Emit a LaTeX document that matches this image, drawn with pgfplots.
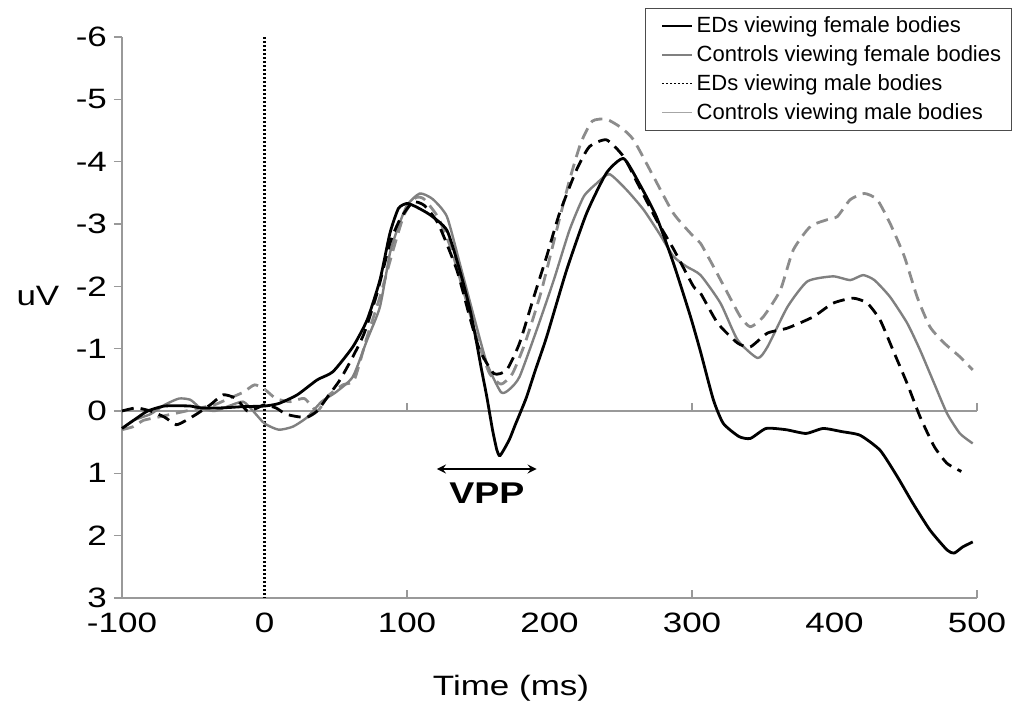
\documentclass[border=0pt]{standalone}
\usepackage{fontspec}
\setmainfont{Liberation Sans}
\newfontfamily\axfont{Liberation Sans}[FakeStretch=1.25]
\usepackage{pgfplots}
\pgfplotsset{compat=1.18}
\definecolor{axgray}{gray}{0.6}
\definecolor{cgray}{gray}{0.5}
\definecolor{dgray}{gray}{0.55}
\begin{document}
\begin{tikzpicture}
\path[use as bounding box] (-61pt,-54pt) rectangle (445.5pt,299pt);
\begin{axis}[
  at={(0,0)}, anchor=south west,
  scale only axis, width=427.5pt, height=280.5pt,
  xmin=-100, xmax=500, ymin=-6, ymax=3, y dir=reverse,
  clip=false,
  axis line style={draw=none},
  xtick={-100,0,100,200,300,400,500},
  xticklabels={-100,0,100,200,300,400,500},
  ytick={-6,-5,-4,-3,-2,-1,0,1,2,3},
  yticklabels={-6,-5,-4,-3,-2,-1,0,1,2,3},
  ytick pos=left,
  y tick style={axgray, line width=0.6pt},
  x tick style={draw=none},
  tick align=outside,
  major tick length=4pt,
  tick label style={font=\axfont\fontsize{14}{16}\selectfont},
  legend style={at={(0.6117,1.0517)}, anchor=north west, draw=black!70, line width=0.5pt,
    font=\fontsize{11}{12.5}\selectfont, row sep=1pt, inner xsep=3pt, inner ysep=2pt},
  legend cell align=left,
  legend image code/.code={\path (0pt,0pt); \draw[#1] (5pt,0pt) -- (20pt,0pt);},
  every axis plot/.append style={smooth, tension=0.35, line join=round},
]
% axis lines
\draw[axgray, line width=0.6pt] (axis cs:-100,-6) -- (axis cs:-100,3) -- (axis cs:500,3);
\draw[axgray, line width=0.6pt] (axis cs:-100,0) -- (axis cs:500,0);
\draw[axgray, line width=0.6pt] (axis cs:100,3) -- ([yshift=4pt]axis cs:100,3);
\draw[axgray, line width=0.6pt] (axis cs:300,3) -- ([yshift=4pt]axis cs:300,3);
\draw[axgray, line width=0.6pt] (axis cs:500,3) -- ([yshift=4pt]axis cs:500,3);
\draw[axgray, line width=0.6pt] (axis cs:100,0) -- ([yshift=4pt]axis cs:100,0);
\draw[axgray, line width=0.6pt] (axis cs:300,0) -- ([yshift=4pt]axis cs:300,0);
\draw[axgray, line width=0.6pt] (axis cs:500,0) -- ([yshift=4pt]axis cs:500,0);
\draw[black, line width=1.1pt, dash pattern=on 1pt off 1pt] (axis cs:0,-6) -- (axis cs:0,3);

% Controls viewing male bodies (gray dashed)
\addplot[forget plot, dgray, line width=1.4pt, dash pattern=on 6pt off 3.5pt] coordinates {
(-100,0.3) (-92,0.25) (-85,0.15) (-75,0.1) (-65,0.05) (-55,0.0) (-45,-0.05) (-35,-0.1)
(-25,-0.2) (-15,-0.3) (-7,-0.42) (0,-0.35) (8,-0.2) (18,-0.15) (28,-0.2) (37,0.0)
(45,-0.25) (55,-0.42) (63,-0.5) (72,-1.19) (81,-1.83) (91,-2.64) (98,-3.15) (106,-3.42)
(112,-3.4) (122,-3.1) (131,-2.6) (140,-1.9) (150,-1.1) (158,-0.6) (166,-0.43) (174,-0.6)
(183,-1.1) (194,-1.9) (205,-2.9) (214,-3.7) (222,-4.3) (230,-4.65) (240,-4.68) (250,-4.55)
(259,-4.35) (273,-3.76) (287,-3.17) (301,-2.8) (306,-2.69) (315,-2.32) (325,-1.89) (334,-1.51)
(341,-1.35) (350,-1.51) (362,-1.94) (371,-2.58) (383,-2.96) (395,-3.07) (402,-3.12) (411,-3.39)
(421,-3.49) (430,-3.39) (439,-3.01) (449,-2.48) (458,-1.83) (467,-1.35) (477,-1.09) (488,-0.87)
(497,-0.66)
};
% Controls viewing female bodies (gray solid)
\addplot[forget plot, cgray, line width=1.2pt] coordinates {
(-100,0.28) (-92,0.15) (-80,0.05) (-70,-0.1) (-60,-0.2) (-52,-0.18) (-45,-0.05) (-35,0.0)
(-25,-0.08) (-15,-0.15) (-8,0.0) (0,0.2) (10,0.3) (20,0.25) (30,0.1) (40,-0.15)
(50,-0.3) (62,-0.55) (72,-1.14) (81,-1.67) (88,-2.53) (93,-2.9) (100,-3.3) (109,-3.49)
(118,-3.4) (128,-3.12) (137,-2.37) (147,-1.51) (156,-0.77) (166,-0.3) (172,-0.35) (179,-0.55)
(191,-1.3) (203,-2.1) (214,-2.9) (224,-3.44) (233,-3.65) (242,-3.8) (254,-3.55) (266,-3.23)
(277,-2.85) (287,-2.48) (296,-2.32) (306,-2.18) (320,-1.73) (332,-1.14) (346,-0.85) (353,-1.03)
(367,-1.67) (381,-2.08) (399,-2.16) (411,-2.1) (420,-2.18) (428,-2.1) (439,-1.83) (451,-1.41)
(460,-0.98) (470,-0.44) (479,0.04) (488,0.36) (497,0.52)
};
% EDs viewing male bodies (black dashed)
\addplot[forget plot, black, line width=1.4pt, dash pattern=on 6pt off 3.5pt] coordinates {
(-100,0.0) (-90,-0.05) (-80,0.0) (-70,0.1) (-62,0.22) (-55,0.15) (-47,0.04) (-38,-0.1)
(-29,-0.26) (-20,-0.2) (-12,0.0) (-5,-0.05) (0,-0.1) (8,-0.05) (15,0.05) (23,0.09)
(30,0.1) (37,0.0) (45,-0.25) (53,-0.5) (62,-0.87) (70,-1.25) (79,-1.89) (88,-2.69)
(95,-3.07) (104,-3.35) (112,-3.3) (122,-3.0) (135,-2.26) (144,-1.51) (151,-0.98) (161,-0.6)
(170,-0.66) (179,-1.09) (189,-1.83) (198,-2.48) (207,-3.17) (219,-3.87) (228,-4.24) (240,-4.35)
(252,-4.08) (263,-3.6) (275,-3.07) (287,-2.6) (301,-2.0) (306,-1.89) (318,-1.41) (332,-1.09)
(341,-1.03) (353,-1.25) (367,-1.33) (385,-1.51) (399,-1.73) (413,-1.81) (423,-1.73) (432,-1.46)
(441,-0.98) (451,-0.44) (460,0.09) (470,0.57) (479,0.84) (489,0.97)
};
% EDs viewing female bodies (black solid)
\addplot[forget plot, black, line width=1.4pt] coordinates {
(-100,0.28) (-90,0.12) (-82,0.0) (-70,-0.08) (-52,-0.08) (-45,-0.05) (-30,-0.05) (-15,-0.07)
(0,-0.08) (10,-0.12) (23,-0.26) (37,-0.5) (48,-0.63) (62,-1.03) (72,-1.46) (81,-2.1)
(88,-2.85) (94,-3.25) (100,-3.33) (106,-3.28) (116,-3.15) (128,-2.9) (137,-2.26) (144,-1.65)
(148,-1.2) (152,-0.7) (156,-0.23) (160,0.3) (163,0.62) (165,0.72) (168,0.62) (172,0.45)
(176,0.22) (180,0.0) (184,-0.23) (190,-0.65) (198,-1.19) (212,-2.26)
(226,-3.17) (240,-3.82) (252,-4.05) (263,-3.65) (275,-3.12) (287,-2.37) (299,-1.51) (306,-0.95)
(315,-0.18) (322,0.2) (333,0.41) (341,0.44) (352,0.28) (366,0.3) (380,0.36) (392,0.28)
(405,0.33) (418,0.39) (432,0.63) (444,1.05) (455,1.48) (467,1.91) (479,2.23) (484,2.28)
(490,2.18) (497,2.1)
};

\addlegendimage{black, line width=0.6pt, sharp plot}
\addlegendentry{EDs viewing female bodies}
\addlegendimage{black!50, line width=0.6pt, sharp plot}
\addlegendentry{Controls viewing female bodies}
\addlegendimage{black, line width=0.6pt, dash pattern=on 1pt off 1pt, sharp plot}
\addlegendentry{EDs viewing male bodies}
\addlegendimage{black!35, line width=0.6pt, sharp plot}
\addlegendentry{Controls viewing male bodies}

% VPP annotation
\draw[black, line width=1pt, <->, >=stealth] (axis cs:121,0.93) -- (axis cs:191,0.93);
\node[font=\axfont\fontsize{15}{17}\selectfont\bfseries] at (axis cs:156,1.32) {VPP};
% axis labels
\node[font=\axfont\fontsize{14}{16}\selectfont] at (axis cs:-159,-1.85) {uV};
\node[font=\axfont\fontsize{14}{16}\selectfont, anchor=center] at (axis cs:173,3) [yshift=-45pt] {Time (ms)};
\end{axis}
\end{tikzpicture}
\end{document}
